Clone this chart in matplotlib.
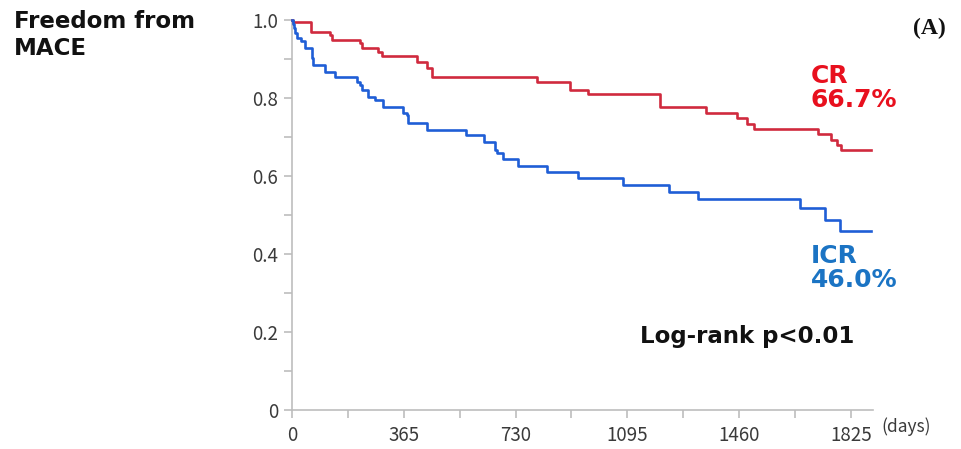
import numpy as np
import matplotlib
matplotlib.use("Agg")
import matplotlib.pyplot as plt
from matplotlib.ticker import MultipleLocator, FixedLocator

# Kaplan-Meier steps (day, freedom from MACE)
cr_days = [0, 3, 61, 124, 130, 222, 228, 281, 293, 407, 440, 456, 799, 907, 966,
           1201, 1352, 1452, 1485, 1508, 1718, 1761, 1778, 1794, 1892]
cr_surv = [1.0, 0.994, 0.970, 0.962, 0.949, 0.940, 0.927, 0.919, 0.908, 0.893, 0.876,
           0.855, 0.842, 0.821, 0.810, 0.778, 0.762, 0.748, 0.733, 0.720, 0.708, 0.692,
           0.679, 0.667, 0.667]

icr_days = [0, 2, 5, 10, 16, 29, 43, 64, 70, 108, 141, 212, 222, 227, 249, 271, 298,
            363, 375, 380, 440, 568, 628, 663, 668, 690, 737, 831, 935, 1081, 1231,
            1324, 1659, 1741, 1789, 1892]
icr_surv = [1.0, 0.99, 0.98, 0.966, 0.955, 0.945, 0.927, 0.902, 0.885, 0.867, 0.855,
            0.842, 0.833, 0.821, 0.803, 0.795, 0.778, 0.761, 0.756, 0.735, 0.718, 0.705,
            0.686, 0.667, 0.658, 0.643, 0.626, 0.611, 0.594, 0.578, 0.558, 0.540, 0.517,
            0.487, 0.460, 0.460]

x_ticks = [0, 365, 730, 1095, 1460, 1825]
y_ticks = [0, 0.2, 0.4, 0.6, 0.8, 1.0]
y_labels = ["0", "0.2", "0.4", "0.6", "0.8", "1.0"]

red_line = "#d02a3e"
blue_line = "#1f5ed6"
red_text = "#e8101e"
blue_text = "#1b74c4"
axis_gray = "#bdbdbd"

tick_font = ["Noto Sans CJK JP", "DejaVu Sans"]

fig = plt.figure(figsize=(9.62, 4.49), dpi=100)
ax = fig.add_axes([292 / 962, 1 - 410 / 449, (873 - 292) / 962, (410 - 20) / 449])

ax.step(cr_days, cr_surv, where="post", color=red_line, lw=1.9, clip_on=False, zorder=3)
ax.step(icr_days, icr_surv, where="post", color=blue_line, lw=1.9, clip_on=False, zorder=3)

ax.set_xlim(0, 1897)
ax.set_ylim(0, 1.0)

for s in ["top", "right"]:
    ax.spines[s].set_visible(False)
for s in ["left", "bottom"]:
    ax.spines[s].set_color(axis_gray)
    ax.spines[s].set_linewidth(1.2)

ax.xaxis.set_major_locator(FixedLocator(x_ticks))
ax.xaxis.set_minor_locator(MultipleLocator(182.5))
ax.set_yticks(y_ticks)
ax.set_yticklabels(y_labels)
ax.yaxis.set_minor_locator(MultipleLocator(0.1))
ax.tick_params(which="both", color=axis_gray, width=1.2, labelcolor="#3a3a3a", length=6)
ax.tick_params(axis="x", which="major", labelsize=13.5, pad=5)
ax.tick_params(axis="y", which="major", labelsize=13.5, pad=4)
for lab in ax.get_xticklabels() + ax.get_yticklabels():
    lab.set_family(tick_font)

fig.text(14 / 962, 1 - 35 / 449, "Freedom from\nMACE", fontsize=16.5, fontweight="bold",
         va="center", ha="left", linespacing=1.2, color="#111111")
fig.text(913 / 962, 1 - 28 / 449, "(A)", fontsize=17, fontweight="bold",
         family="Liberation Serif", va="center", ha="left", color="#111111")
fig.text(881 / 962, 1 - 427 / 449, "(days)", fontsize=12.5, family=tick_font,
         va="center", ha="left", color="#3a3a3a")

fig.text(811 / 962, 1 - 88 / 449, "CR\n66.7%", fontsize=18, fontweight="bold",
         color=red_text, va="center", ha="left", linespacing=1.05)
fig.text(811 / 962, 1 - 268 / 449, "ICR\n46.0%", fontsize=18, fontweight="bold",
         color=blue_text, va="center", ha="left", linespacing=1.05)
fig.text(640 / 962, 1 - 337 / 449, "Log-rank p<0.01", fontsize=16.5, fontweight="bold",
         color="#111111", va="center", ha="left")

fig.savefig("out.png", dpi=100)
